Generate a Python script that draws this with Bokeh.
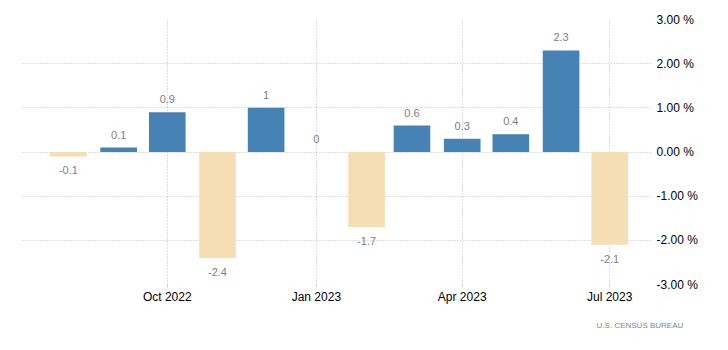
from datetime import datetime, timedelta
from bokeh.plotting import figure
from bokeh.models import (ColumnDataSource, Range1d, MonthsTicker, Title,
                          DatetimeTickFormatter, PrintfTickFormatter, FixedTicker)
from bokeh.core.properties import value
from bokeh.embed import file_html
from bokeh.resources import INLINE

# data
months = ["2022-08", "2022-09", "2022-10", "2022-11", "2022-12", "2023-01",
          "2023-02", "2023-03", "2023-04", "2023-05", "2023-06", "2023-07"]
changes = [-0.1, 0.1, 0.9, -2.4, 1.0, 0.0, -1.7, 0.6, 0.3, 0.4, 2.3, -2.1]
y_ticks = [-3, -2, -1, 0, 1, 2, 3]
source_text = "U.S.  CENSUS BUREAU"

POS = "#4682B4"
NEG = "#F5DEB3"
FONT = "Liberation Sans"

dates = [datetime.strptime(m, "%Y-%m") for m in months]
src = ColumnDataSource(dict(
    x=dates,
    top=changes,
    color=[POS if v >= 0 else NEG for v in changes],
    label=[f"{v:g}" for v in changes],
    yoff=[-13 if v >= 0 else 14 for v in changes],
))

p = figure(width=728, height=350, x_axis_type="datetime", y_axis_location="right",
           output_backend="svg", toolbar_location=None,
           min_border_left=22, min_border_right=76, min_border_top=19, min_border_bottom=66)
p.x_range = Range1d(datetime(2022, 7, 3, 16), datetime(2023, 7, 27, 10))
p.y_range = Range1d(-3, 3)
p.outline_line_color = None
p.background_fill_color = "white"
p.border_fill_color = "white"

bar_w = timedelta(days=22.6).total_seconds() * 1000
p.vbar(x="x", top="top", bottom=0, width=bar_w, fill_color="color", line_color=None,
       source=src)
p.text(x="x", y="top", text="label", y_offset="yoff", source=src,
       text_align="center", text_baseline="middle", text_color="#7d7d85",
       text_font=value(FONT), text_font_size="11px")

# x axis
xa = p.xaxis[0]
xa.ticker = MonthsTicker(months=[0, 3, 6, 9])
xa.formatter = DatetimeTickFormatter(months="%b %Y", years="%b %Y", days="%b %Y")
xa.axis_line_color = None
xa.major_tick_line_color = "#d0d0d0"
xa.major_tick_out = 3
xa.major_tick_in = 0
xa.minor_tick_line_color = None
xa.major_label_standoff = 2
xa.major_label_text_font = FONT
xa.major_label_text_font_size = "12px"
xa.major_label_text_color = "#000000"

# y axis
ya = p.yaxis[0]
ya.ticker = FixedTicker(ticks=y_ticks)
ya.formatter = PrintfTickFormatter(format="%.2f %%")
ya.axis_line_color = None
ya.major_tick_line_color = None
ya.minor_tick_line_color = None
ya.major_tick_out = 0
ya.major_label_standoff = 4
ya.major_label_text_font = FONT
ya.major_label_text_font_size = "12px"
ya.major_label_text_color = "#000000"

for g in (p.xgrid[0], p.ygrid[0]):
    g.grid_line_color = "#bdbdbd"
    g.grid_line_dash = "1 2"
    g.grid_line_width = 1

p.add_layout(Title(text=source_text, align="right", offset=-33, standoff=24,
                   text_font=FONT, text_font_size="8px", text_font_style="normal",
                   text_color="#7f858c"), "below")

open("out.html", "w").write(file_html(p, INLINE))
